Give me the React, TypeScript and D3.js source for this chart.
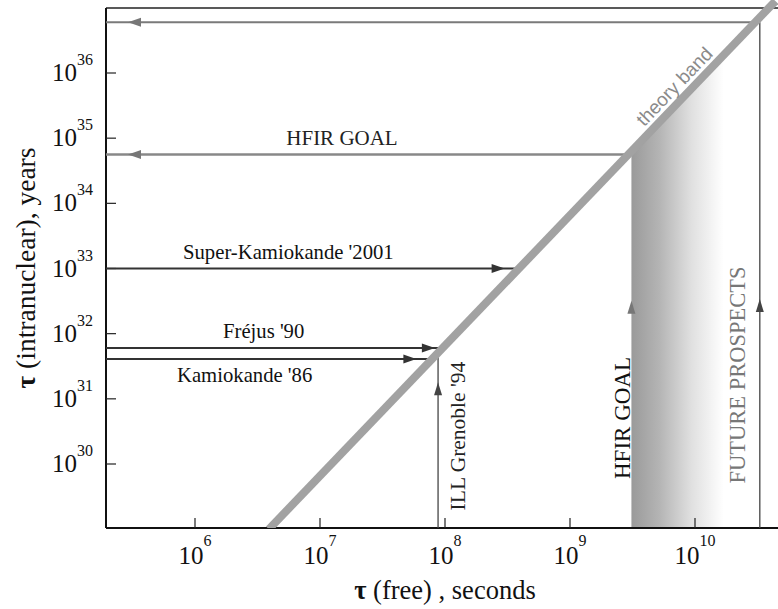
import React from "react";
import * as d3 from "d3";

// ---- data ----
const xTicks = [1e6, 1e7, 1e8, 1e9, 1e10];
const xTickExp = ["6", "7", "8", "9", "10"];
const yTicks = [1e30, 1e31, 1e32, 1e33, 1e34, 1e35, 1e36];
const yTickExp = ["30", "31", "32", "33", "34", "35", "36"];

// theory band: tau_nuclear ∝ tau_free^2
const bandFree = [3.9e6, 4.4e10];
const bandNuclear = [1e29, 1.27e37];

// experimental limits (rightward arrows to the band)
const expNames = ["Super-Kamiokande '2001", "Fréjus '90", "Kamiokande '86"];
const expLifetime = [1e33, 6e31, 4.1e31];
const expTipFree = [3.0e8, 8.3e7, 5.9e7];

// goals (leftward arrows from a free lifetime)
const goalNames = ["HFIR  GOAL", ""];
const goalLifetime = [5.6e34, 6e36];
const goalFromFree = [3.1e9, 3.3e10];

// vertical arrows (free-neutron measurements / goals)
const vertNames = ["ILL Grenoble '94", "HFIR  GOAL", "FUTURE  PROSPECTS"];
const vertFree = [8.8e7, 3.1e9, 3.3e10];
const vertTop = [null, null, 6e36];
const vertTipNuclear = [1.8e31, 3.2e32, 3.4e32];

const W = 778;
const H = 609;

export default function App() {
  const x = d3.scaleLog().domain([1e6, 1e10]).range([195, 695]);
  const y = d3.scaleLog().domain([1e30, 1e36]).range([464, 73]);
  const left = 106, top = 8, bottom = 528, right = 778;

  const bandAt = (f: number) => bandNuclear[0] * Math.pow(f / bandFree[0], 2);
  const freeAtBand = (n: number) => bandFree[0] * Math.sqrt(n / bandNuclear[0]);

  const serif = "'Liberation Serif', 'Times New Roman', serif";
  const sans = "'Liberation Sans', Arial, sans-serif";

  const arrowHead = (tx: number, ty: number, dir: "l" | "r" | "u", fill: string, len = 13, hw = 4.5) => {
    let pts: [number, number][];
    if (dir === "r") pts = [[tx, ty], [tx - len, ty - hw], [tx - len, ty + hw]];
    else if (dir === "l") pts = [[tx, ty], [tx + len, ty - hw], [tx + len, ty + hw]];
    else pts = [[tx, ty], [tx - hw, ty + len], [tx + hw, ty + len]];
    return <polygon points={pts.map((p) => p.join(",")).join(" ")} fill={fill} />;
  };

  // shading region under band, right of HFIR goal
  const hfx = x(goalFromFree[0]);
  const shadeRightFree = 1.7e10;
  const shadePts: [number, number][] = [
    [hfx, bottom],
    [hfx, y(bandAt(goalFromFree[0]))],
    [x(shadeRightFree), y(bandAt(shadeRightFree))],
    [x(shadeRightFree), bottom],
  ];

  const bandLine = d3.line<[number, number]>()([
    [x(bandFree[0]), y(bandNuclear[0])],
    [x(bandFree[1]), y(bandNuclear[1])],
  ]);

  const bandAngle =
    (Math.atan2(y(bandNuclear[1]) - y(bandNuclear[0]), x(bandFree[1]) - x(bandFree[0])) * 180) / Math.PI;

  return (
    <svg width={W} height={H} style={{ display: "block", position: "absolute", left: 0, top: 0, background: "#fff" }}>
      <defs>
        <linearGradient id="shade" x1={hfx} x2={x(shadeRightFree)} y1={0} y2={0} gradientUnits="userSpaceOnUse">
          <stop offset="0" stopColor="#9a9a9a" />
          <stop offset="0.3" stopColor="#b4b4b4" />
          <stop offset="0.65" stopColor="#e0e0e0" />
          <stop offset="1" stopColor="#ffffff" />
        </linearGradient>
        <clipPath id="bandClip">
          <rect x={left} y={0} width={right - left} height={bottom} />
        </clipPath>
      </defs>

      {/* shaded region */}
      <polygon points={shadePts.map((p) => p.join(",")).join(" ")} fill="url(#shade)" />

      {/* frame */}
      <line x1={left} x2={right} y1={top} y2={top} stroke="#222" strokeWidth={1.5} />
      <line x1={left} x2={left} y1={top} y2={bottom} stroke="#111" strokeWidth={2} />
      <line x1={left} x2={right} y1={bottom} y2={bottom} stroke="#111" strokeWidth={2} />

      {/* ticks */}
      {xTicks.map((t, i) => (
        <g key={"xt" + i}>
          <line x1={x(t)} x2={x(t)} y1={bottom} y2={bottom - 10} stroke="#222" strokeWidth={1.2} />
          <text x={x(t)} y={564} textAnchor="middle" fontFamily={serif} fontSize={25} fill="#111">
            10<tspan dy={-18} fontSize={16}>{xTickExp[i]}</tspan>
          </text>
        </g>
      ))}
      {yTicks.map((t, i) => (
        <g key={"yt" + i}>
          <line x1={left} x2={left + 10} y1={y(t)} y2={y(t)} stroke="#222" strokeWidth={1.2} />
          <text x={93} y={y(t) + 8} textAnchor="end" fontFamily={serif} fontSize={25} fill="#111">
            10<tspan dy={-16} fontSize={16}>{yTickExp[i]}</tspan>
          </text>
        </g>
      ))}

      {/* axis titles */}
      <text x={445} y={599} textAnchor="middle" fontFamily={serif} fontSize={26.5} fill="#111">
        <tspan fontWeight="bold">τ</tspan> (free) , seconds
      </text>
      <text
        transform={`translate(35,268) rotate(-90)`}
        textAnchor="middle"
        fontFamily={serif}
        fontSize={27.5}
        fill="#111"
      >
        <tspan fontWeight="bold">τ</tspan> (intranuclear),  years
      </text>

      {/* leftward goal arrows */}
      {goalLifetime.map((n, i) => {
        const yy = y(n);
        const x2 = x(goalFromFree[i]);
        return (
          <g key={"g" + i}>
            <line x1={left} x2={x2} y1={yy} y2={yy} stroke={i === 0 ? "#888" : "#7a7a7a"} strokeWidth={i === 0 ? 2.5 : 2} />
            {arrowHead(left + 22, yy, "l", "#777")}
          </g>
        );
      })}
      <text x={342} y={145} textAnchor="middle" fontFamily={serif} fontSize={21} fill="#222">
        {goalNames[0]}
      </text>

      {/* experimental arrows */}
      {expLifetime.map((n, i) => {
        const yy = y(n);
        const x2 = x(freeAtBand(n));
        return (
          <g key={"e" + i}>
            <line x1={left} x2={x2} y1={yy} y2={yy} stroke="#333" strokeWidth={2} />
            {arrowHead(x(expTipFree[i]), yy, "r", "#333")}
          </g>
        );
      })}
      <text x={183} y={259} fontFamily={serif} fontSize={20.7} fill="#111">{expNames[0]}</text>
      <text x={223} y={338} fontFamily={serif} fontSize={20.7} fill="#111">{expNames[1]}</text>
      <text x={177} y={382} fontFamily={serif} fontSize={20.7} fill="#111">{expNames[2]}</text>

      {/* vertical arrows */}
      {vertFree.map((f, i) => {
        const xx = x(f);
        const topN = vertTop[i] ?? bandAt(f);
        const col = i === 1 ? "#888" : "#444";
        return (
          <g key={"v" + i}>
            {i !== 1 && <line x1={xx} x2={xx} y1={bottom} y2={y(topN)} stroke={col} strokeWidth={1.3} />}
            {arrowHead(xx, y(vertTipNuclear[i]), "u", i === 1 ? "#777" : "#444", 13, 4)}
          </g>
        );
      })}

      {/* theory band */}
      <path d={bandLine ?? ""} stroke="#a2a2a2" strokeWidth={8} fill="none" clipPath="url(#bandClip)" />
      <text
        transform={`translate(${679},${91}) rotate(${bandAngle})`}
        textAnchor="middle"
        fontFamily={sans}
        fontSize={19}
        fill="#8a8a8a"
      >
        theory  band
      </text>

      {/* vertical labels */}
      <text transform={`translate(465,436) rotate(-90)`} textAnchor="middle" fontFamily={serif} fontSize={21.5} fill="#222">
        {vertNames[0]}
      </text>
      <text transform={`translate(630,418) rotate(-90)`} textAnchor="middle" fontFamily={serif} fontSize={23} fill="#111">
        {vertNames[1]}
      </text>
      <text transform={`translate(745,375) rotate(-90)`} textAnchor="middle" fontFamily={serif} fontSize={22.5} fill="#777">
        {vertNames[2]}
      </text>
    </svg>
  );
}
